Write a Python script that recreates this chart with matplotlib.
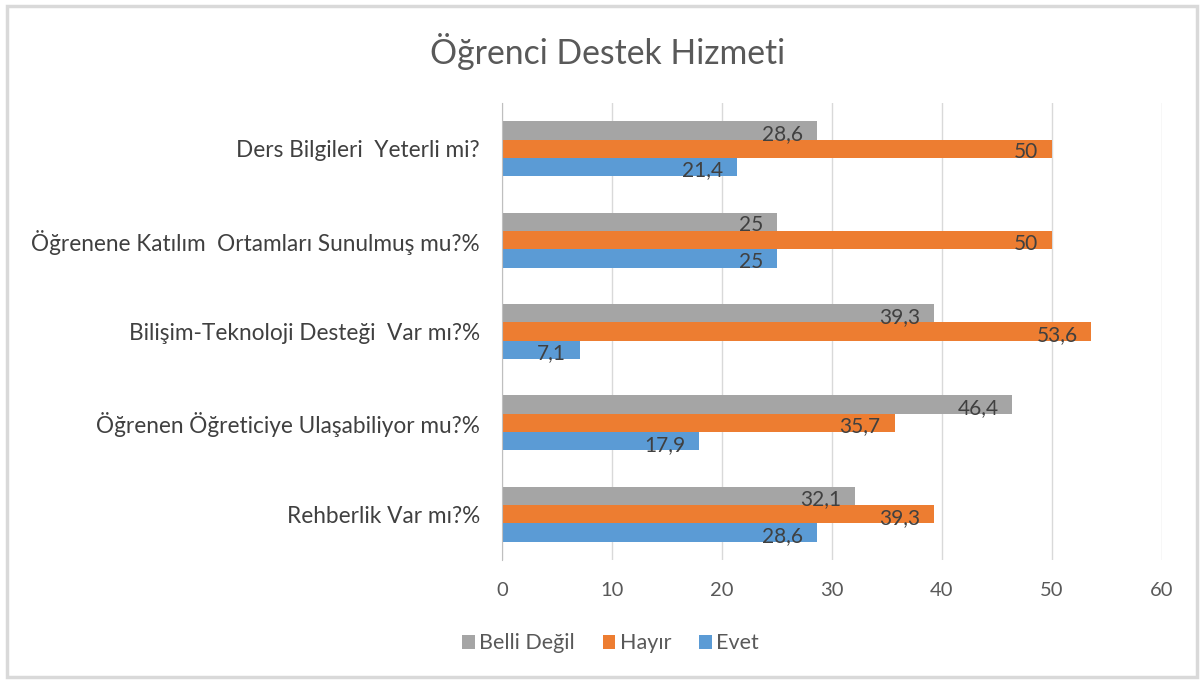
import matplotlib
matplotlib.use("Agg")
import matplotlib.pyplot as plt
from matplotlib.patches import Rectangle

categories = [
    "Ders Bilgileri  Yeterli mi?",
    "Öğrenene Katılım  Ortamları Sunulmuş mu?%",
    "Bilişim-Teknoloji Desteği  Var mı?%",
    "Öğrenen Öğreticiye Ulaşabiliyor mu?%",
    "Rehberlik Var mı?%",
]
belli_degil = [28.6, 25, 39.3, 46.4, 32.1]
hayir = [50, 50, 53.6, 35.7, 39.3]
evet = [21.4, 25, 7.1, 17.9, 28.6]
series_names = ["Belli Değil", "Hayır", "Evet"]
colors = ["#A5A5A5", "#ED7D31", "#5B9BD5"]
xticks = [0, 10, 20, 30, 40, 50, 60]

FONT = ["Lato", "DejaVu Sans"]
plt.rcParams["font.family"] = FONT
TXT = "#595959"

fig = plt.figure(figsize=(12.04, 6.8), dpi=100)
fig.patches.append(Rectangle((0.006, 0.004), 0.988, 0.987, transform=fig.transFigure,
                             fill=False, edgecolor="#d9d9d9", linewidth=2.5))
ax = fig.add_axes([0.417, 0.1765, 0.548, 0.672])

h = 0.2
ys = list(range(len(categories)))
all_series = [belli_degil, hayir, evet]
offsets = [-h, 0, h]
for vals, name, col, off in zip(all_series, series_names, colors, offsets):
    bars = ax.barh([y + off for y in ys], vals, height=h, color=col, label=name, zorder=3)
    for b, v in zip(bars, vals):
        lab = ("%g" % v).replace(".", ",")
        ax.annotate(lab, (b.get_width(), b.get_y() + b.get_height() / 2),
                    xytext=(-10, -2.5), textcoords="offset points",
                    ha="right", va="center", fontsize=15, color="#404040", zorder=4)

ax.set_ylim(len(categories) - 0.5, -0.5)
ax.set_xlim(0, 60)
ax.set_xticks(xticks)
ax.set_xticklabels([str(t) for t in xticks], fontsize=14.5, color=TXT)
ax.set_yticks(ys)
ax.set_yticklabels(categories, fontsize=16.3, color="#404040")
ax.tick_params(axis="both", length=0)
ax.tick_params(axis="x", pad=16)
ax.tick_params(axis="y", pad=16)
ax.grid(axis="x", color="#d9d9d9", linewidth=1, zorder=0)
for s in ["top", "right", "bottom"]:
    ax.spines[s].set_visible(False)
ax.spines["left"].set_color("#bfbfbf")
ax.spines["left"].set_zorder(5)

fig.text(0.505, 0.924, "Öğrenci Destek Hizmeti", ha="center", va="center",
         fontsize=24.3, color=TXT)

handles, labels = ax.get_legend_handles_labels()
fig.legend(handles, labels, loc="center", bbox_to_anchor=(0.507, 0.054), ncol=3,
           frameon=False, fontsize=15.5, labelcolor=TXT, handlelength=0.6,
           handleheight=0.6, handletextpad=0.2, columnspacing=1.3)

fig.savefig("out.png", dpi=100)
